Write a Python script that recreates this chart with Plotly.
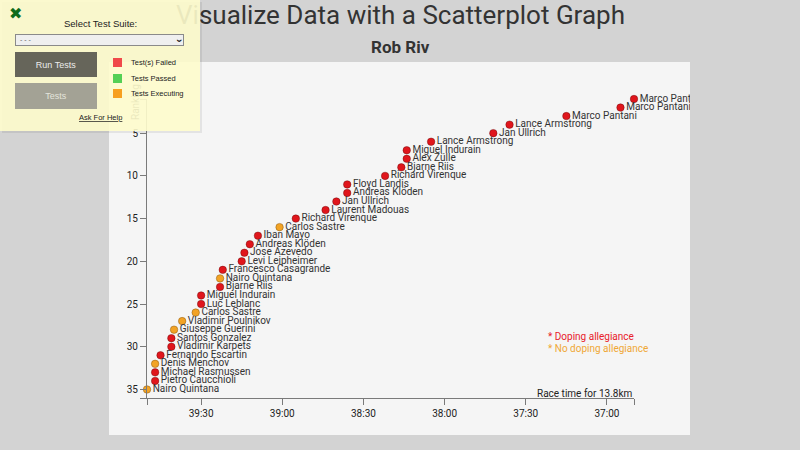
import plotly.graph_objects as go

# ---------------- data ----------------
places = list(range(1, 36))
names = ["Marco Pantani", "Marco Pantani", "Marco Pantani", "Lance Armstrong", "Jan Ullrich",
         "Lance Armstrong", "Miguel Indurain", "Alex Zülle", "Bjarne Riis", "Richard Virenque",
         "Floyd Landis", "Andreas Klöden", "Jan Ullrich", "Laurent Madouas", "Richard Virenque",
         "Carlos Sastre", "Iban Mayo", "Andreas Klöden", "Jose Azevedo", "Levi Leipheimer",
         "Francesco Casagrande", "Nairo Quintana", "Bjarne Riis", "Miguel Indurain", "Luc Leblanc",
         "Carlos Sastre", "Vladimir Poulnikov", "Giuseppe Guerini", "Santos Gonzalez", "Vladimir Karpets",
         "Fernando Escartin", "Denis Menchov", "Michael Rasmussen", "Pietro Caucchioli", "Nairo Quintana"]
times = ["36:50", "36:55", "37:15", "37:36", "37:42", "38:05", "38:14", "38:14", "38:16", "38:22",
         "38:36", "38:36", "38:40", "38:44", "38:55", "39:01", "39:09", "39:12", "39:14", "39:15",
         "39:22", "39:23", "39:23", "39:30", "39:30", "39:32", "39:37", "39:40", "39:41", "39:41",
         "39:45", "39:47", "39:47", "39:47", "39:50"]
doping = [True, True, True, True, True, True, True, True, True, True,
          True, True, True, True, True, False, True, True, True, True,
          True, False, True, True, True, False, False, False, True, True,
          True, False, True, True, False]
x_tick_labels = ["39:30", "39:00", "38:30", "38:00", "37:30", "37:00"]
y_tick_labels = ["5", "10", "15", "20", "25", "30", "35"]
x_domain = ["39:50", "36:50"]
y_domain = [36, 1]


def secs(t):
    m, s = t.split(":")
    return int(m) * 60 + int(s)


xs = [secs(t) for t in times]

# ---------------- geometry helpers ----------------
W, H = 800, 450
L, R, T, B = 147, 166, 99, 52
PW, PH = W - L - R, H - T - B


def X(px):
    return (px - L) / PW


def Y(py):
    return (H - B - py) / PH


FONT = "Roboto, Ubuntu, sans-serif"
ARIAL = "Liberation Sans, Arial, sans-serif"

RED = "#e0161c"
ORANGE = "#f2a325"

fig = go.Figure()
for flag, col in [(True, RED), (False, ORANGE)]:
    idx = [i for i in range(len(names)) if doping[i] == flag]
    fig.add_trace(go.Scatter(
        x=[xs[i] for i in idx], y=[places[i] for i in idx],
        text=[names[i] for i in idx],
        mode="markers+text", textposition="middle right",
        textfont=dict(family=FONT, size=10, color="#333"),
        marker=dict(size=7.5, color=col,
                    line=dict(width=0.7, color="rgba(90,0,0,0.55)" if flag else "rgba(120,70,0,0.6)")),
        cliponaxis=False, showlegend=False, hoverinfo="skip"))

xtv = [secs(x_domain[0])] + [secs(t) for t in x_tick_labels] + [secs(x_domain[1])]
xtt = [""] + x_tick_labels + [""]
ytv = [y_domain[0]] + [int(v) for v in y_tick_labels] + [y_domain[1]]
ytt = [""] + y_tick_labels + [""]

axis_common = dict(showgrid=False, zeroline=False, showline=True, linecolor="#7a7a7a", linewidth=1,
                   ticks="outside", ticklen=6, tickcolor="#7a7a7a", tickwidth=1,
                   tickfont=dict(family=FONT, size=10, color="#222"), tickmode="array")

fig.update_xaxes(range=[secs(x_domain[0]), secs(x_domain[1])], tickvals=xtv, ticktext=xtt, **axis_common)
fig.update_yaxes(range=y_domain, tickvals=ytv, ticktext=ytt, **axis_common)

shapes = [dict(type="rect", xref="paper", yref="paper", x0=X(109), x1=X(690), y0=Y(435), y1=Y(62),
               fillcolor="#f5f5f5", line=dict(width=0), layer="below")]

ann = []


def text(px, py, s, size, color, family=FONT, xa="left", ya="middle", angle=0):
    ann.append(dict(x=X(px), y=Y(py), xref="paper", yref="paper", text=s, showarrow=False,
                    xanchor=xa, yanchor=ya, textangle=angle,
                    font=dict(family=family, size=size, color=color)))


def rect(x0, y0, x1, y1, color, s=" ", size=1, fcolor="#000", family=ARIAL, border=None):
    d = dict(x=X(x0), y=Y(y0), xref="paper", yref="paper", text=s, showarrow=False,
             xanchor="left", yanchor="top", width=x1 - x0, height=y1 - y0,
             bgcolor=color, borderpad=0, borderwidth=0, align="center", valign="middle",
             font=dict(family=family, size=size, color=fcolor))
    if border:
        d["bordercolor"] = border
        d["borderwidth"] = 1
        d["width"] = x1 - x0 - 2
        d["height"] = y1 - y0 - 2
    ann.append(d)


# titles
text(400, 15, "Visualize Data with a Scatterplot Graph", 26, "#333", xa="center")
text(400, 47, "<b>Rob Riv</b>", 17, "#333", xa="center")
text(135, 102, "Ranking", 10, "#333", xa="center", angle=-90)
# legend
text(546, 336, "* Doping allegiance", 10, "#e8202a")
text(546, 348.5, "* No doping allegiance", 10, "#f0a835")
# x-axis caption
text(634, 393, "Race time for 13.8km", 10, "#222", xa="right")
# clip overflowing label at box edge
rect(690, 62, 800, 440, "#d3d3d3")

# test-suite overlay
rect(2, 2, 202, 133, "rgba(0,0,0,0.07)")
rect(0, 0, 200, 131, "rgba(255,253,205,0.9)")
text(15, 14, "✖", 16, "#0e6b1a", family="DejaVu Sans", xa="center")
text(100, 24, "Select Test Suite:", 9.5, "#222", family=ARIAL, xa="center")
rect(15, 34, 184, 46, "#efefef", border="#8a8a8a")
text(18, 40, "- - -", 7, "#666", family=ARIAL)
text(179, 40, "<b>›</b>", 10, "#222", family=ARIAL, xa="center", angle=90)
rect(15, 52, 97, 77, "#66655a", s="Run Tests", size=9, fcolor="#ececec")
rect(15, 83, 97, 109, "#a3a295", s="Tests", size=9, fcolor="#e4e4dc")
rect(113, 58, 122, 67, "#f04a4a")
rect(113, 74, 122, 83, "#55d055")
rect(113, 89, 122, 98, "#f7a020")
text(129, 62.5, "Test(s) Failed", 7.5, "#222", family=ARIAL)
text(129, 78.5, "Tests Passed", 7.5, "#222", family=ARIAL)
text(129, 93.5, "Tests Executing", 7.5, "#222", family=ARIAL)
text(100, 118, "<u>Ask For Help</u>", 7.5, "#222", family=ARIAL, xa="center")

fig.update_layout(width=W, height=H, margin=dict(l=L, r=R, t=T, b=B, autoexpand=False),
                  paper_bgcolor="#d3d3d3", plot_bgcolor="rgba(0,0,0,0)",
                  shapes=shapes, annotations=ann, hovermode=False)

fig.write_html("out.html")
